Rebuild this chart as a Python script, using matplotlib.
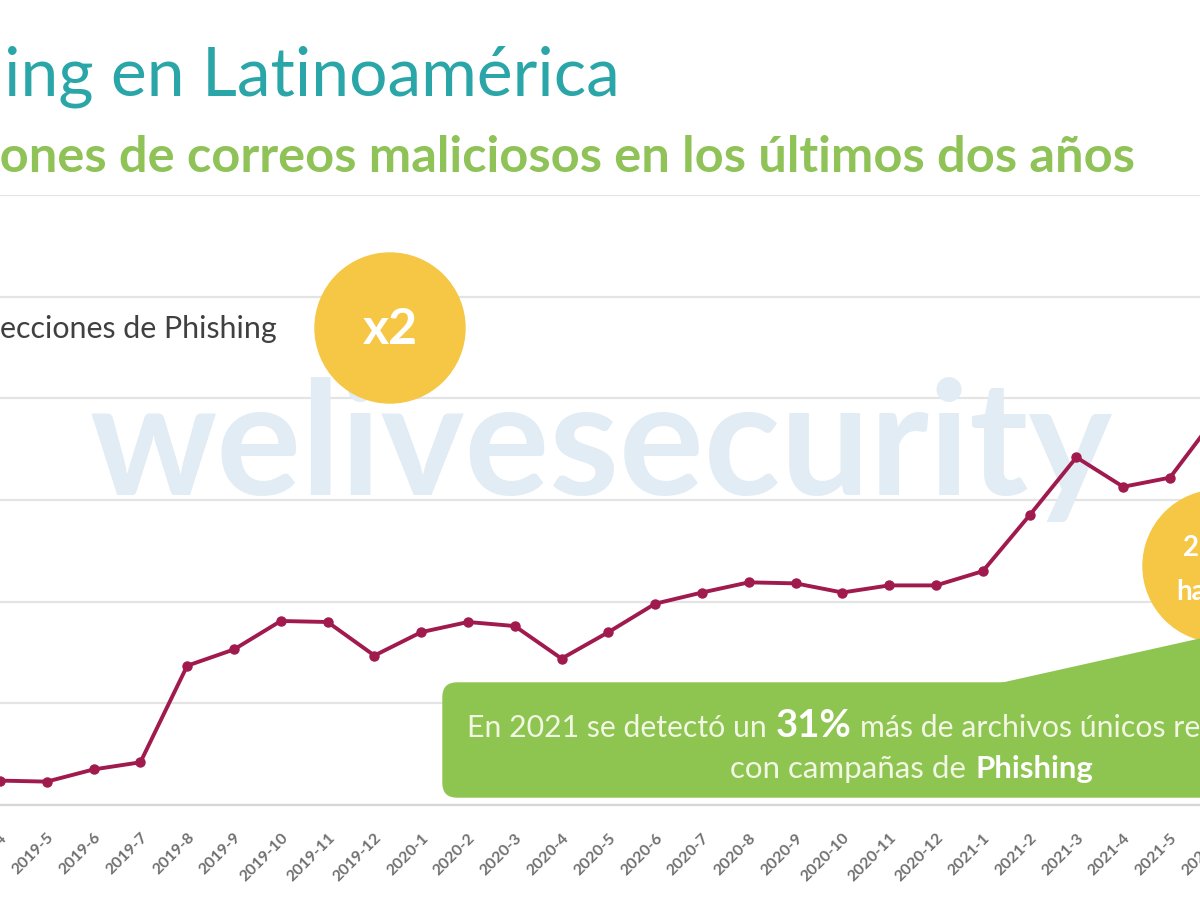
import matplotlib
matplotlib.use("Agg")
import matplotlib.pyplot as plt
from matplotlib.patches import Circle, FancyBboxPatch, Polygon

# ---------------- data ----------------
months = ["2019-4", "2019-5", "2019-6", "2019-7", "2019-8", "2019-9", "2019-10",
          "2019-11", "2019-12", "2020-1", "2020-2", "2020-3", "2020-4", "2020-5",
          "2020-6", "2020-7", "2020-8", "2020-9", "2020-10", "2020-11", "2020-12",
          "2021-1", "2021-2", "2021-3", "2021-4", "2021-5", "2021-6"]
detections = [24, 23, 35, 42, 137, 153, 181, 180, 147, 170, 180, 176, 144, 170,
              198, 209, 219, 218, 209, 216, 216, 230, 285, 342, 313, 322, 383]

title = "Phishing en Latinoamérica"
subtitle = "Detecciones de correos maliciosos en los últimos dos años"
legend_label = "Detecciones de Phishing"

W, H = 1200, 900
fig = plt.figure(figsize=(12, 9), dpi=100)
fig.patch.set_facecolor("white")
renderer = fig.canvas.get_renderer()

FONT = "Lato"

def P(x, y):
    return (x / 100.0, (H - y) / 100.0)

def fit(text, target_px, **kw):
    t = fig.text(0, 0, text, fontsize=50, **kw)
    w = t.get_window_extent(renderer).width
    t.remove()
    return 50 * target_px / w

# ---------------- axes (the reference is a crop, so the axes run past the right edge) ----------------
step = 46.8
AXW = 1240
ax = fig.add_axes([0, (H - 805) / H, AXW / W, (805 - 195) / H])
xs = list(range(len(months)))
ax.plot(xs, detections, color="#a01a4e", lw=2.8, marker="o", ms=6.5, zorder=3,
        clip_on=True)
ax.set_xticks(xs)
ax.set_xticklabels(months, rotation=45, ha="right", va="top", rotation_mode="anchor",
                   fontsize=11.5, color="#707070", fontweight="bold", family=FONT)
ax.tick_params(axis="x", pad=15)
ax.set_yticks(range(0, 601, 100))
ax.set_xlim(0, AXW / step)
ax.set_ylim(0, 600)
ax.tick_params(left=False, labelleft=False, bottom=False)
ax.grid(axis="y", color="#e4e4e4", lw=1.6)
ax.set_axisbelow(True)
for s in ["top", "left", "right"]:
    ax.spines[s].set_visible(False)
ax.spines["bottom"].set_color("#d6d6d6")
ax.spines["bottom"].set_linewidth(1.6)

# watermark
ws = fit("welivesecurity", 1025, family=FONT, fontweight="bold")
ax.text(*P(90, 495), "welivesecurity", transform=fig.dpi_scale_trans, fontsize=ws,
        family=FONT, fontweight="bold", color="#e1ecf4", ha="left", va="baseline",
        zorder=0.8)

# ---------------- titles ----------------
ts = fit("ing en Latinoamérica", 615, family=FONT)
fig.text(620 / W, (H - 95) / H, title, fontsize=ts, family=FONT, color="#2aa6a8",
         ha="right", va="baseline")
ss = fit("ones de correos maliciosos en los últimos dos años", 1135, family=FONT,
         fontweight="bold")
fig.text(1135 / W, (H - 172) / H, subtitle, fontsize=ss, family=FONT,
         fontweight="bold", color="#8fc257", ha="right", va="baseline")
ls = fit("ecciones de Phishing", 277, family=FONT)
fig.text(277 / W, (H - 338) / H, legend_label, fontsize=ls, family=FONT,
         color="#404040", ha="right", va="baseline")

# ---------------- overlays ----------------
yellow = "#f6c744"
c1 = Circle(P(390, 328), 0.75, transform=fig.dpi_scale_trans, color=yellow,
            zorder=5, clip_on=False)
ax.add_patch(c1)
ax.text(*P(390, 330), "x2", transform=fig.dpi_scale_trans, fontsize=36,
        fontweight="bold", family=FONT, color="white", ha="center", va="center",
        zorder=6)

c2 = Circle(P(1219, 566), 0.76, transform=fig.dpi_scale_trans, color=yellow,
            zorder=5, clip_on=False)
ax.add_patch(c2)
ax.text(*P(1183, 548), "2,5x", transform=fig.dpi_scale_trans, fontsize=20,
        fontweight="bold", family=FONT, color="white", ha="left", va="center",
        zorder=6)
ax.text(*P(1176, 592), "hasta", transform=fig.dpi_scale_trans, fontsize=20,
        fontweight="bold", family=FONT, color="white", ha="left", va="center",
        zorder=6)

green = "#8ec450"
x0, y0 = P(443, 797)
banner = FancyBboxPatch((x0, y0), (1300 - 443) / 100, (797 - 683) / 100,
                        boxstyle="round,pad=0,rounding_size=0.14",
                        transform=fig.dpi_scale_trans, color=green, zorder=5,
                        clip_on=False)
ax.add_patch(banner)
wedge = Polygon([P(990, 686), P(1205, 638), P(1300, 638), P(1300, 700)],
                closed=True, transform=fig.dpi_scale_trans, color=green, zorder=5,
                clip_on=False)
ax.add_patch(wedge)

cream = "#f2f7e4"
bs = fit("En 2021 se detectó un", 300, family=FONT)
ax.text(*P(467, 737), "En 2021 se detectó un", transform=fig.dpi_scale_trans,
        fontsize=bs, family=FONT, color=cream, ha="left", va="baseline", zorder=6)
b31 = fit("31%", 76, family=FONT, fontweight="bold")
ax.text(*P(776, 737), "31%", transform=fig.dpi_scale_trans, fontsize=b31,
        family=FONT, fontweight="bold", color="white", ha="left", va="baseline",
        zorder=6)
ax.text(*P(860, 737), "más de archivos únicos relacionados", transform=fig.dpi_scale_trans,
        fontsize=bs, family=FONT, color=cream, ha="left", va="baseline", zorder=6)
cs = fit("con campañas de", 236, family=FONT)
ax.text(*P(730, 778), "con campañas de", transform=fig.dpi_scale_trans,
        fontsize=cs, family=FONT, color=cream, ha="left", va="baseline", zorder=6)
bp = fit("Phishing", 118, family=FONT, fontweight="bold")
ax.text(*P(975, 778), "Phishing", transform=fig.dpi_scale_trans, fontsize=bp,
        family=FONT, fontweight="bold", color="white", ha="left", va="baseline",
        zorder=6)

fig.savefig("out.png", dpi=100, facecolor="white")
